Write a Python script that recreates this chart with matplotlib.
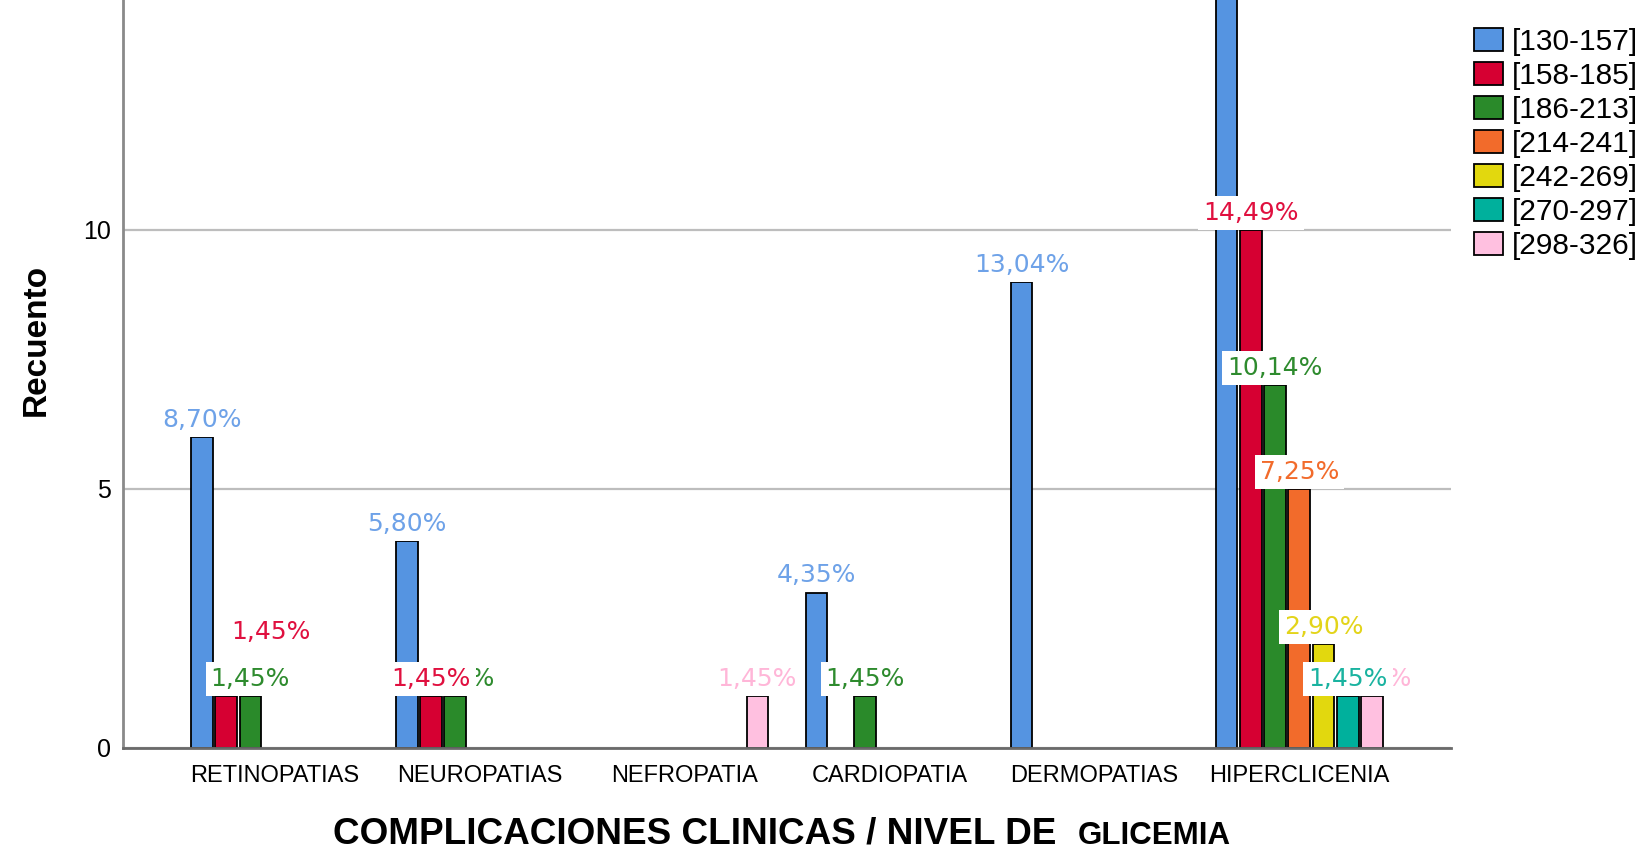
import numpy as np
import matplotlib
matplotlib.use("Agg")
import matplotlib.pyplot as plt

plt.rcParams['font.family'] = ['Liberation Sans', 'DejaVu Sans']

categorias = ["RETINOPATIAS", "NEUROPATIAS", "NEFROPATIA",
              "CARDIOPATIA", "DERMOPATIAS", "HIPERCLICENIA"]
niveles = ["[130-157]", "[158-185]", "[186-213]", "[214-241]",
           "[242-269]", "[270-297]", "[298-326]"]

# recuento por nivel de glicemia (una lista por nivel, en el orden de categorias)
n_130_157 = [6, 4, 0, 3, 9, 15]
n_158_185 = [1, 1, 0, 0, 0, 10]
n_186_213 = [1, 1, 0, 1, 0, 7]
n_214_241 = [0, 0, 0, 0, 0, 5]
n_242_269 = [0, 0, 0, 0, 0, 2]
n_270_297 = [0, 0, 0, 0, 0, 1]
n_298_326 = [0, 0, 1, 0, 0, 1]
recuentos = [n_130_157, n_158_185, n_186_213, n_214_241,
             n_242_269, n_270_297, n_298_326]
total = 69

colores = ["#5594E1", "#D60032", "#2A8A2A", "#F26B2B",
           "#E2D80E", "#00B09C", "#FFC0E0"]
colores_txt = ["#6EA2E8", "#E0103F", "#2E8B2E", "#F26B2B",
               "#E3D41A", "#1AB3A0", "#FFB6D8"]

fig = plt.figure(figsize=(16.41, 8.49), dpi=100)
ax = fig.add_axes([0.075, 0.119, 0.8092, 0.881])

x = np.arange(len(categorias))
paso = 0.1185
ancho = 0.106

barras = []
for i, vals in enumerate(recuentos):
    vals = np.array(vals)
    pos = x + (i - 3) * paso
    m = vals > 0
    b = ax.bar(pos[m], vals[m], width=ancho, color=colores[i],
               edgecolor="black", linewidth=1.3, zorder=3, label=niveles[i])
    barras.append(b)

# etiquetas de porcentaje (las de menor indice quedan encima)
desplaza = {(1, 0): (0.22, 0.9)}
for i in range(len(recuentos) - 1, -1, -1):
    for j, v in enumerate(recuentos[i]):
        if v == 0:
            continue
        dx, dy = desplaza.get((i, j), (0, 0))
        txt = f"{v / total * 100:.2f}%".replace(".", ",")
        ax.text(x[j] + (i - 3) * paso + dx, v + 0.33 + dy, txt,
                ha="center", va="center", fontsize=18, family="DejaVu Sans",
                color=colores_txt[i], zorder=10 + (7 - i),
                bbox=dict(boxstyle="square,pad=0.2", fc="white", ec="none"))

ax.set_xlim(-0.74, 5.74)
ax.set_ylim(0, 14.44)
ax.set_yticks([0, 5, 10])
ax.set_xticks(x)
ax.set_xticklabels(categorias, fontsize=17)
ax.tick_params(axis="y", length=0, pad=9, labelsize=18)
ax.tick_params(axis="x", length=0, pad=12)

ax.grid(axis="y", color="#BDBDBD", linewidth=1.6, zorder=0)
for s in ["top", "right"]:
    ax.spines[s].set_visible(False)
ax.spines["left"].set_color("#8A8A8A")
ax.spines["left"].set_linewidth(2)
ax.spines["bottom"].set_color("#6A6A6A")
ax.spines["bottom"].set_linewidth(2)
ax.spines["bottom"].set_zorder(4)

ax.set_ylabel("Recuento", fontsize=24, fontweight="bold")
ax.yaxis.set_label_coords(-0.054, 0.545)

fig.text(333 / 1641, 1 - 843 / 849, "COMPLICACIONES CLINICAS / NIVEL DE",
         fontsize=26.6, fontweight="bold", ha="left", va="baseline")
fig.text(1078 / 1641, 1 - 844 / 849, "GLICEMIA",
         fontsize=22.5, fontweight="bold", ha="left", va="baseline")

leg = ax.legend(handles=barras, loc="upper left",
                bbox_to_anchor=(1474 / 1641, 1 - 28 / 849),
                bbox_transform=fig.transFigure, frameon=False,
                fontsize=21.5, handlelength=0.98, handleheight=0.8,
                handletextpad=0.3, labelspacing=0.2,
                borderpad=0, borderaxespad=0)

fig.savefig("out.png", dpi=100)
